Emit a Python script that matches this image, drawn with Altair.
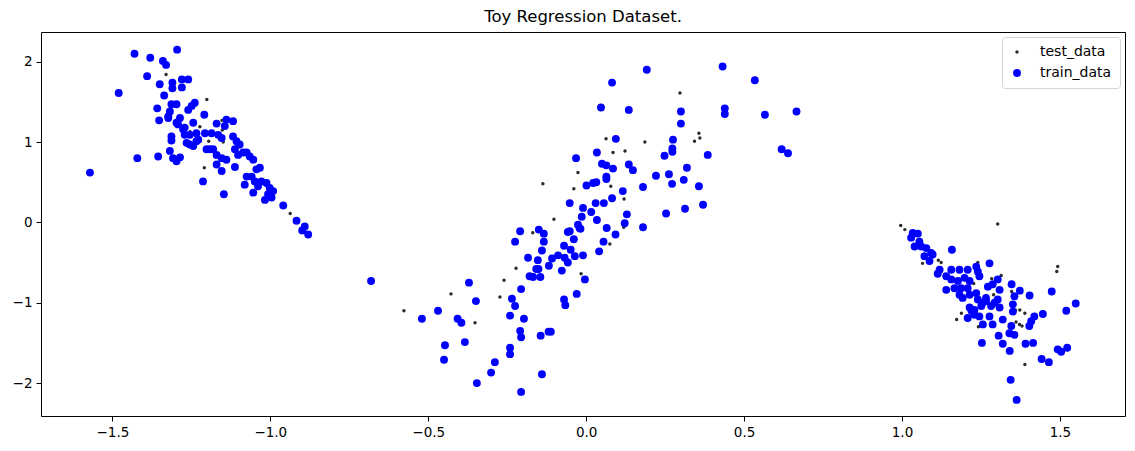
import altair as alt
import pandas as pd

# ---- train data (three clusters) ----
train_x_1 = [-1.43, -1.295, -1.38, -1.34, -1.33, -1.39, -1.35, -1.48, -1.31, -1.28, -1.26, -1.28, -1.31,
             -1.336, -1.358, -1.313, -1.297, -1.318, -1.352, -1.323, -1.26, -1.239, -1.249, -1.209, -1.286,
             -1.292, -1.271, -1.244, -1.255, -1.271, -1.313, -1.313, -1.170, -1.139, -1.118, -1.144, -1.207,
             -1.186, -1.165, -1.154, -1.181, -1.191, -1.202, -1.234, -1.244, -1.255, -1.318, -1.308, -1.297,
             -1.286, -1.421, -1.355, -1.118, -1.107, -1.097, -1.112, -1.102, -1.086, -1.075, -1.065, -1.054,
             -1.170, -1.154, -1.139, -1.170, -1.154, -1.112, -1.213, -1.147, -1.075, -1.059, -1.044, -1.033,
             -1.081, -1.049, -1.039, -1.054, -1.028, -1.012, -1.002, -0.991, -1.007, -1.017, -0.996, -0.959,
             -0.917, -0.891, -0.899, -0.880, -1.571, -1.265, -1.297, -1.323, -1.276, -1.234, -1.228]
train_y_1 = [2.10, 2.15, 2.05, 2.01, 1.96, 1.82, 1.72, 1.61, 1.74, 1.78, 1.78, 1.68, 1.67,
             1.58, 1.42, 1.47, 1.47, 1.38, 1.27, 1.30, 1.40, 1.49, 1.45, 1.34, 1.30,
             1.22, 1.18, 1.24, 1.09, 1.09, 1.07, 1.02, 1.23, 1.28, 1.26, 1.20, 1.11,
             1.11, 1.09, 1.05, 0.91, 0.91, 0.91, 1.01, 0.95, 0.97, 0.89, 0.80, 0.76,
             0.81, 0.80, 0.82, 1.07, 1.01, 0.97, 0.91, 0.84, 0.87, 0.87, 0.82, 0.78,
             0.84, 0.80, 0.78, 0.72, 0.64, 0.69, 0.51, 0.35, 0.57, 0.57, 0.66, 0.68,
             0.47, 0.51, 0.45, 0.37, 0.51, 0.49, 0.43, 0.39, 0.35, 0.28, 0.31, 0.21,
             0.02, -0.05, -0.10, -0.15, 0.62, 0.99, 1.24, 1.32, 1.16, 1.11, 1.03]

train_x_2 = [-0.681, -0.371, -0.349, -0.469, -0.520, -0.407, -0.395, -0.447, -0.450, -0.384, -0.289, -0.301,
             -0.346, -0.206, -0.140, -0.241, -0.241, -0.209, -0.206, -0.144, -0.119, -0.112, -0.241, -0.197,
             -0.235, -0.225, -0.206, -0.209, -0.225, -0.184, -0.179, -0.168, -0.145, -0.150, -0.134, -0.134,
             -0.140, -0.153, -0.158, -0.151, -0.118, -0.108, -0.089, -0.077, -0.070, -0.070, -0.066, -0.052,
             -0.058, -0.068, -0.058, -0.049, -0.039, -0.010, -0.014, -0.026, -0.018, -0.010, -0.036, -0.004,
             -0.030, 0.016, 0.034, 0.030, 0.056, 0.082, 0.065, 0.093, 0.055, 0.041, 0.116, 0.129, 0.122,
             0.001, 0.022, 0.192, 0.082, 0.047, 0.135, 0.432, 0.534, 0.300, 0.300, 0.439, 0.439, 0.566,
             0.666, 0.619, 0.639, 0.094, 0.275, 0.273, 0.273, 0.248, 0.385, -0.032, 0.034, 0.050, 0.064,
             0.085, 0.135, 0.148, 0.064, 0.064, 0.032, 0.221, 0.262, 0.319, 0.309, 0.272, 0.357, 0.180,
             0.180, 0.253, 0.313, 0.370, -0.052, -0.021]
train_y_2 = [-0.73, -0.75, -0.98, -1.10, -1.20, -1.20, -1.25, -1.53, -1.71, -1.49, -1.74, -1.87,
             -2.00, -2.11, -1.89, -1.56, -1.64, -1.35, -1.43, -1.41, -1.36, -1.36, -1.16, -1.20,
             -0.95, -1.04, -0.83, -0.11, -0.24, -0.44, -0.67, -0.68, -0.68, -0.09, -0.14, -0.24,
             -0.35, -0.47, -0.58, -0.58, -0.54, -0.45, -0.41, -0.60, -0.29, -0.96, -1.03, 0.24,
             -0.12, -0.44, -0.50, -0.34, -0.21, 0.18, 0.07, -0.03, -0.08, -0.41, -0.42, -0.71,
             -0.89, 0.13, 0.03, 0.24, 0.24, 0.30, -0.07, -0.15, -0.24, -0.36, 0.39, 0.10, -0.01,
             0.46, 0.49, 1.90, 1.74, 1.43, 1.40, 1.94, 1.77, 1.38, 1.23, 1.42, 1.35, 1.34,
             1.38, 0.91, 0.86, 1.04, 1.03, 0.92, 0.88, 0.83, 0.84, 0.80, 0.87, 0.73, 0.71,
             0.67, 0.72, 0.65, 0.57, 0.54, 0.50, 0.58, 0.60, 0.68, 0.53, 0.48, 0.45, 0.44,
             -0.06, 0.11, 0.17, 0.22, -0.11, -0.07]

train_x_3 = [1.034, 1.050, 1.029, 1.055, 1.040, 1.061, 1.158, 1.077, 1.092, 1.071, 1.087, 1.097, 1.119,
             1.113, 1.140, 1.156, 1.182, 1.208, 1.235, 1.240, 1.245, 1.277, 1.156, 1.177, 1.198, 1.214,
             1.140, 1.166, 1.187, 1.208, 1.182, 1.192, 1.214, 1.235, 1.240, 1.256, 1.266, 1.251, 1.214,
             1.208, 1.229, 1.245, 1.256, 1.277, 1.287, 1.282, 1.303, 1.309, 1.319, 1.272, 1.287, 1.303,
             1.309, 1.347, 1.373, 1.404, 1.474, 1.520, 1.550, 1.356, 1.351, 1.351, 1.419, 1.446, 1.409,
             1.403, 1.346, 1.340, 1.356, 1.306, 1.319, 1.341, 1.253, 1.391, 1.415, 1.442, 1.465, 1.493,
             1.504, 1.523, 1.344, 1.363, 1.266, 1.293, 1.229, 1.220]
train_y_3 = [-0.13, -0.14, -0.19, -0.24, -0.30, -0.30, -0.34, -0.32, -0.38, -0.42, -0.48, -0.40, -0.59,
             -0.64, -0.67, -0.59, -0.59, -0.59, -0.55, -0.61, -0.67, -0.51, -0.71, -0.73, -0.69, -0.73,
             -0.84, -0.82, -0.82, -0.82, -0.90, -0.94, -0.90, -0.88, -0.96, -1.00, -0.94, -1.04, -1.06,
             -1.19, -1.09, -1.17, -1.27, -1.17, -1.27, -1.04, -0.96, -1.06, -1.21, -0.80, -0.77, -0.71,
             -0.84, -0.77, -0.85, -0.91, -0.86, -1.10, -1.01, -0.92, -1.02, -1.11, -1.17, -1.14, -1.23,
             -1.29, -1.29, -1.38, -1.40, -1.41, -1.51, -1.60, -1.50, -1.51, -1.50, -1.70, -1.74, -1.58,
             -1.61, -1.56, -1.96, -2.21, -0.98, -1.00, -1.15, -1.10]

# ---- test data ----
test_x = [-1.330, -1.201, -1.223, -1.153, -1.152, -1.195, -1.149, -1.209, -0.937, -1.254,
          -0.137, -0.102, -0.169, -0.222, -0.260, -0.428, -0.273, -0.577, -0.352, -0.039, 0.078, 0.120,
          -0.016, 0.075, 0.119, 0.297, 0.063, 0.186, 0.085, 0.123, 0.357, 0.360, 0.343, -0.026,
          0.996, 1.009, 1.303, 1.065, 1.115, 1.124, 1.240, 1.284, 1.314, 1.227, 1.493, 1.490, 1.347,
          1.290, 1.346, 1.359, 1.373, 1.389, 1.188, 1.173, 1.361, 1.372, 1.380, 1.242, 1.389]
test_y = [1.84, 1.53, 1.19, 1.27, 1.15, 1.01, 1.00, 0.68, 0.11, 1.13,
          0.48, 0.04, -0.13, -0.57, -0.72, -0.89, -0.93, -1.10, -1.25, 0.42, 0.45, 0.29,
          -0.64, -0.27, -0.06, 1.61, 1.04, 1.00, 0.87, 0.89, 1.11, 1.05, 1.01, 0.62,
          -0.04, -0.09, -0.02, -0.51, -0.47, -0.50, -0.50, -0.70, -0.66, -0.76, -0.55, -0.61, -0.86,
          -0.90, -1.11, -1.09, -1.09, -1.13, -1.13, -1.21, -1.24, -1.27, -1.29, -1.30, -1.77]

series_names = ["test_data", "train_data"]
series_colors = ["#2b2b2b", "#0000ff"]

train_x = train_x_1 + train_x_2 + train_x_3
train_y = train_y_1 + train_y_2 + train_y_3

df = pd.DataFrame({
    "x": test_x + train_x,
    "y": test_y + train_y,
    "series": [series_names[0]] * len(test_x) + [series_names[1]] * len(train_x),
})
df["ord"] = range(len(df))

font = "DejaVu Sans"
minus_expr = "replace(format(datum.value, '{f}'), '-', '\u2212')"

axis_style = dict(domain=False, grid=False, ticks=True, tickColor="black", tickSize=5, tickWidth=1,
                  labelFont=font, labelFontSize=13.5, labelColor="black", labelPadding=4, title=None)

chart = alt.Chart(df).mark_circle(opacity=1, strokeWidth=0).encode(
    x=alt.X("x:Q", scale=alt.Scale(domain=[-1.726, 1.706], nice=False, zero=False),
            axis=alt.Axis(values=[-1.5, -1.0, -0.5, 0.0, 0.5, 1.0, 1.5],
                          labelExpr=minus_expr.format(f=".1f"), **axis_style)),
    y=alt.Y("y:Q", scale=alt.Scale(domain=[-2.41, 2.37], nice=False, zero=False),
            axis=alt.Axis(values=[-2, -1, 0, 1, 2],
                          labelExpr=minus_expr.format(f="d"), **axis_style)),
    color=alt.Color("series:N", scale=alt.Scale(domain=series_names, range=series_colors),
                    legend=alt.Legend(title=None, orient="top-right", offset=5,
                                      fillColor="white", strokeColor="#d6d6d6",
                                      cornerRadius=3, padding=8, rowPadding=7,
                                      labelFontSize=14, labelFont=font, labelColor="black",
                                      symbolType="circle", labelOffset=16)),
    size=alt.Size("series:N", scale=alt.Scale(domain=series_names, range=[12, 62]), legend=None),
    order=alt.Order("ord:Q"),
).properties(
    width=1084, height=384,
    background="white",
    title=alt.TitleParams("Toy Regression Dataset.", fontSize=16.5, fontWeight="normal",
                          font=font, color="black", offset=7),
    autosize=alt.AutoSizeParams(type="none"),
    padding={"left": 41, "top": 32, "right": 10, "bottom": 35},
).configure_view(
    stroke="black", strokeWidth=1
)

chart.save("out.html", embed_options={"renderer": "svg", "actions": False})
